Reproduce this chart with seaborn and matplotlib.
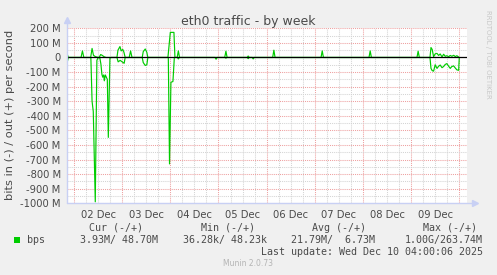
import matplotlib
matplotlib.use("Agg")
import matplotlib.pyplot as plt
from matplotlib.ticker import FixedLocator, FuncFormatter, MultipleLocator
from matplotlib.patches import Rectangle
import numpy as np
import pandas as pd
import seaborn as sns

# ---------------- data (hours since 02 Dec 00:00, values in Mbit/s) ----------------
out_hours = [-3.6, -2.8,
             3.5, 4.2, 4.9,
             8.3, 9.0, 9.7, 10.5, 11.5, 12.5, 13.3, 14.0, 15.0, 16.0,
             21.4, 21.9, 22.9, 23.5, 24.3, 24.9, 25.5,
             27.5, 28.2, 28.9,
             34.0, 34.5, 35.5, 36.3, 36.8,
             46.8, 48.0, 49.8, 50.3,
             51.4, 52.0, 52.6,
             75.1, 75.7, 76.3,
             86.3, 86.8, 87.3,
             99.0, 99.6, 100.2,
             123.1, 123.7, 124.3,
             147.0, 147.6, 148.2,
             170.9, 171.5, 172.1,
             177.4, 177.9, 178.5, 179.2, 180.0, 180.9, 181.7, 182.5, 183.4, 184.2,
             185.0, 185.8, 186.7, 187.5, 188.3, 189.2, 190.0, 190.8, 191.7, 192.0]
out_mbps = [32, 0,
            0, 45, 0,
            0, 62, 15, 7, 2, 0, 20, 15, 5, 0,
            0, 50, 75, 45, 55, 35, 0,
            0, 45, 0,
            0, 40, 58, 35, 0,
            0, 172, 172, 0,
            0, 45, 0,
            0, 43, 0,
            0, 10, 0,
            0, 50, 0,
            0, 45, 0,
            0, 45, 0,
            0, 43, 0,
            0, 68, 55, 5, 25, 28, 14, 24, 4, 22,
            8, 12, 5, 14, 8, 15, 6, 12, 3, 0]

in_hours = [-3.6, -2.8,
            8.4, 9.0, 9.6, 10.6, 11.4, 12.0,
            12.9, 13.4, 13.9, 14.3, 14.8, 15.1, 15.6, 16.1, 16.6, 17.1, 17.9, 18.5,
            21.4, 22.0, 23.0, 24.0, 25.0, 25.5,
            34.0, 34.5, 35.5, 36.3, 36.8,
            47.0, 47.6, 48.3, 49.3, 50.0,
            51.5, 52.0, 52.5,
            70.3, 70.8, 71.3,
            75.2, 75.7, 76.2,
            86.3, 86.8, 87.3,
            88.8, 89.3, 89.8,
            177.4, 177.9, 178.5, 179.2, 180.0, 180.9, 181.7, 182.5, 183.4, 184.2,
            185.0, 185.8, 186.7, 187.5, 188.3, 189.2, 190.0, 190.8, 191.7, 192.0]
in_mbps = [44, 0,
           0, 300, 370, 990, 20, 0,
           5, 45, 115, 135, 120, 160, 120, 135, 150, 548, 5, 0,
           0, 30, 20, 30, 40, 0,
           0, 35, 55, 50, 0,
           0, 730, 170, 165, 0,
           0, 10, 0,
           0, 12, 0,
           0, 5, 0,
           0, 8, 0,
           0, 10, 0,
           0, 75, 90, 94, 50, 75, 60, 52, 70, 62,
           48, 42, 60, 75, 62, 58, 72, 85, 88, 0]

day_labels = ["02 Dec", "03 Dec", "04 Dec", "05 Dec", "06 Dec", "07 Dec", "08 Dec", "09 Dec"]
y_ticks = [200, 100, 0, -100, -200, -300, -400, -500, -600, -700, -800, -900, -1000]
y_labels = ["200 M", "100 M", "0", "-100 M", "-200 M", "-300 M", "-400 M", "-500 M",
            "-600 M", "-700 M", "-800 M", "-900 M", "-1000 M"]

title = "eth0 traffic - by week"
y_title = "bits in (-) / out (+) per second"
stat_headers = ["Cur (-/+)", "Min (-/+)", "Avg (-/+)", "Max (-/+)"]
stat_values = ["3.93M/ 48.70M", "36.28k/ 48.23k", "21.79M/  6.73M", "1.00G/263.74M"]
series_name = "bps"
last_update = "Last update: Wed Dec 10 04:00:06 2025"
footer = "Munin 2.0.73"
side_text = "RRDTOOL / TOBI OETIKER"

# ---------------- style ----------------
GREEN = "#00cc00"
RED_GRID = "#eea0a0"
GRAY_GRID = "#d4d4d4"
AXIS_COL = "#c8d0f4"
TXT = "#4a4a4a"
BG = "#f0f0f0"

sns.set_style("white")
plt.rcParams["font.family"] = ["DejaVu Sans"]

W, H = 497, 275
fig = plt.figure(figsize=(W / 100, H / 100), dpi=100, facecolor=BG)
ax = fig.add_axes([66.7 / W, 1 - 203.3 / H, 400 / W, 175 / H])
ax.set_facecolor("white")

df = pd.concat([
    pd.DataFrame({"hour": out_hours, "value": out_mbps, "dir": "out"}),
    pd.DataFrame({"hour": in_hours, "value": [-v for v in in_mbps], "dir": "in"}),
], ignore_index=True)

sns.lineplot(data=df, x="hour", y="value", hue="dir", units="dir",
             palette={"out": GREEN, "in": GREEN}, estimator=None, sort=False,
             legend=False, linewidth=0.85, ax=ax, zorder=3)

ax.set_xlim(-3.64, 195.7)
ax.set_ylim(-1000, 200)

# x ticks: midnight (major, red grid), 6h (minor, gray grid, labels at noon)
ax.xaxis.set_major_locator(MultipleLocator(24))
ax.xaxis.set_major_formatter(FuncFormatter(lambda v, p: ""))
minor_x = [h for h in range(-24, 204, 6) if h % 24 != 0]
ax.xaxis.set_minor_locator(FixedLocator(minor_x))

def minor_fmt(v, p):
    h = int(round(v))
    if h % 24 == 12 and 0 <= h // 24 < len(day_labels):
        return day_labels[h // 24]
    return ""

ax.xaxis.set_minor_formatter(FuncFormatter(minor_fmt))

ax.set_yticks(y_ticks)
ax.set_yticklabels(y_labels)
ax.yaxis.set_minor_locator(MultipleLocator(50))

dots = (0, (1, 1))
ax.grid(which="major", color=RED_GRID, linestyle=dots, linewidth=0.75, zorder=1)
ax.grid(which="minor", color=GRAY_GRID, linestyle=dots, linewidth=0.75, zorder=0)
ax.set_axisbelow(True)

ax.tick_params(axis="both", which="both", direction="out", length=1.5, width=0.7,
               labelsize=7.2, labelcolor=TXT, pad=2.8)
ax.tick_params(axis="x", which="major", colors=RED_GRID, labelcolor=TXT)
ax.tick_params(axis="x", which="minor", colors=GRAY_GRID, labelcolor=TXT, pad=3.0)
ax.tick_params(axis="y", which="major", colors=RED_GRID, labelcolor=TXT)
ax.tick_params(axis="y", which="minor", colors=GRAY_GRID)
ax.set_xlabel("")
ax.set_ylabel("")

for s in ax.spines.values():
    s.set_visible(False)

# zero rule
ax.axhline(0, color="black", linewidth=0.9, zorder=4)

# axis lines with arrows
ax.plot([0, 0], [0, 1 + 6 / 175], transform=ax.transAxes, color=AXIS_COL,
        linewidth=1.0, clip_on=False, zorder=5)
ax.plot([0, 1 + 6 / 400], [0, 0], transform=ax.transAxes, color=AXIS_COL,
        linewidth=1.0, clip_on=False, zorder=5)
ax.plot([0], [1 + 8 / 175], marker="^", markersize=4, color=AXIS_COL,
        transform=ax.transAxes, clip_on=False, zorder=5)
ax.plot([1 + 8 / 400], [0], marker=">", markersize=4, color=AXIS_COL,
        transform=ax.transAxes, clip_on=False, zorder=5)

# texts
fig.text(248 / W, 1 - 24.7 / H, title, ha="center", va="baseline", fontsize=9, color=TXT)
fig.text(10 / W, 1 - 114.5 / H, y_title, ha="center", va="center", rotation=90,
         fontsize=8.2, color=TXT)
fig.text(488 / W, 1 - 54.5 / H, side_text, ha="center", va="center", rotation=270,
         fontsize=5.0, color="#c8c8c8")

mono = "DejaVu Sans Mono"
header_centers = [116.3, 228.0, 339.3, 450.3]
for hx, hdr in zip(header_centers, stat_headers):
    fig.text(hx / W, 1 - 227.7 / H, hdr, ha="center", va="center", fontsize=7.2,
             family=mono, color=TXT)
value_ends = [157.7, 266.7, 375.0, 482.7]
for vx, val in zip(value_ends, stat_values):
    fig.text(vx / W, 1 - 240.0 / H, val, ha="right", va="center", fontsize=7.2,
             family=mono, color=TXT)
fig.patches.append(Rectangle((14 / W, 1 - 243 / H), 6 / W, 6 / H,
                             transform=fig.transFigure, facecolor=GREEN, edgecolor="none"))
fig.text(26.7 / W, 1 - 240.0 / H, series_name, ha="left", va="center", fontsize=7.2,
         family=mono, color=TXT)
fig.text(482.7 / W, 1 - 251.7 / H, last_update, ha="right", va="center", fontsize=7.2,
         family=mono, color=TXT)
fig.text(248 / W, 1 - 264 / H, footer, ha="center", va="center", fontsize=5.5,
         color="#b4b4b4")

fig.savefig("out.png", dpi=100, facecolor=BG)
